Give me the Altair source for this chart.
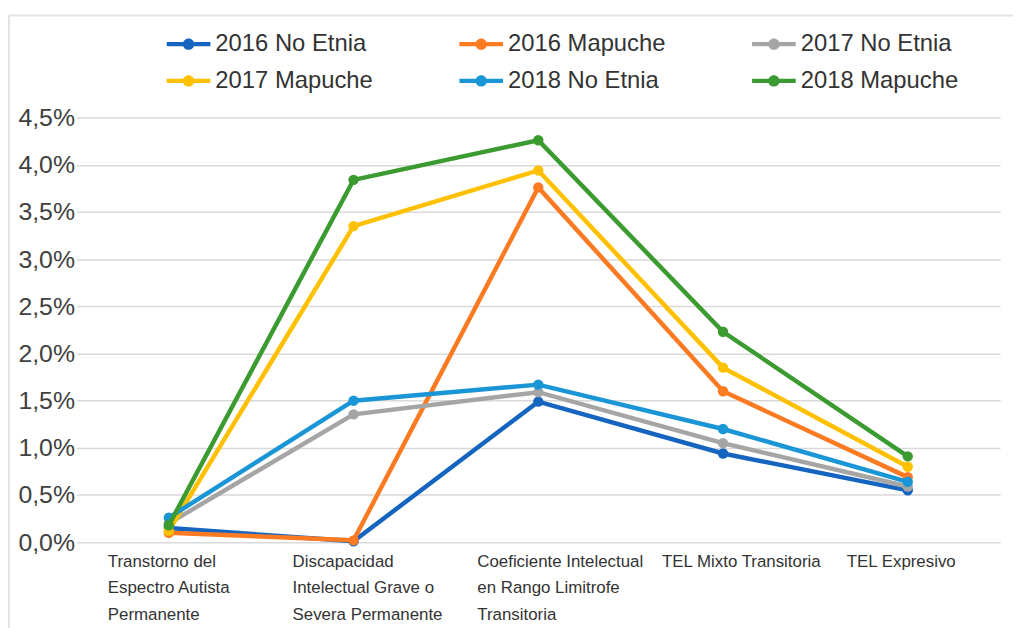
import altair as alt
import pandas as pd

categories = [
    "Transtorno del|Espectro Autista|Permanente",
    "Discapacidad|Intelectual Grave o|Severa Permanente",
    "Coeficiente Intelectual|en Rango Limitrofe|Transitoria",
    "TEL Mixto Transitoria",
    "TEL Expresivo",
]
series = ["2016 No Etnia", "2016 Mapuche", "2017 No Etnia",
          "2017 Mapuche", "2018 No Etnia", "2018 Mapuche"]
colors = ["#1565c0", "#fb7a22", "#a5a5a5", "#ffc000", "#1a96d6", "#3c9b30"]

v_2016_no_etnia = [0.15, 0.01, 1.49, 0.94, 0.55]
v_2016_mapuche = [0.10, 0.02, 3.76, 1.60, 0.69]
v_2017_no_etnia = [0.20, 1.355, 1.59, 1.05, 0.59]
v_2017_mapuche = [0.12, 3.35, 3.94, 1.85, 0.80]
v_2018_no_etnia = [0.26, 1.50, 1.67, 1.20, 0.64]
v_2018_mapuche = [0.18, 3.84, 4.26, 2.23, 0.91]

y_ticks = [0, 0.5, 1.0, 1.5, 2.0, 2.5, 3.0, 3.5, 4.0, 4.5]

all_values = [v_2016_no_etnia, v_2016_mapuche, v_2017_no_etnia,
              v_2017_mapuche, v_2018_no_etnia, v_2018_mapuche]
rows = []
for s, vals in zip(series, all_values):
    for c, v in zip(categories, vals):
        rows.append({"series": s, "cat": c, "value": v})
df = pd.DataFrame(rows)

FONT = "Liberation Sans, Arial, sans-serif"

legend_symbol = ("M-1,-0.1 L1,-0.1 L1,0.1 L-1,0.1 Z "
                 "M-0.26,0 A0.26,0.26 0 1,1 0.26,0 A0.26,0.26 0 1,1 -0.26,0 Z")

x_enc = alt.X(
    "cat:N", sort=categories,
    scale=alt.Scale(type="point", padding=0.5),
    axis=alt.Axis(
        title=None, labelExpr="split(datum.label, '|')", labelAngle=0,
        labelAlign="left", labelBaseline="top", labelOffset=-62,
        labelPadding=11, labelFont=FONT, labelFontSize=17,
        labelLineHeight=27, labelColor="#333333", ticks=False,
        domain=False, grid=False, labelLimit=300, labelOverlap=False,
        labelBound=False,
    ),
)
y_enc = alt.Y(
    "value:Q", scale=alt.Scale(domain=[0, 4.5], nice=False),
    axis=alt.Axis(
        title=None, values=y_ticks,
        labelExpr="replace(format(datum.value, '.1f'), '.', ',') + '%'",
        labelFont=FONT, labelFontSize=25, labelColor="#404040",
        labelPadding=2, ticks=False, domain=False, grid=True,
        gridColor="#d9d9d9", gridWidth=1.5,
    ),
)
color_enc = alt.Color(
    "series:N", sort=series,
    scale=alt.Scale(domain=series, range=colors),
    legend=alt.Legend(
        title=None, orient="none", legendX=91, legendY=-96, columns=3,
        direction="horizontal",
        symbolType=legend_symbol, symbolSize=1936, symbolStrokeWidth=0,
        labelFont=FONT, labelFontSize=24, labelColor="#333333",
        columnPadding=87, rowPadding=3, labelOffset=5, labelLimit=300,
    ),
)

layers = []
frame = pd.DataFrame({"a": [0]})
layers.append(alt.Chart(frame).mark_rule(color="#e3e3e3", strokeWidth=2).encode(
    x=alt.value(-68), x2=alt.value(950), y=alt.value(-103)))
layers.append(alt.Chart(frame).mark_rule(color="#e3e3e3", strokeWidth=2).encode(
    x=alt.value(-68), y=alt.value(-103), y2=alt.value(520)))

for s in series:
    b = alt.Chart(df).transform_filter(alt.datum.series == s).encode(
        x=x_enc, y=y_enc, color=color_enc)
    layers.append(b.mark_line(strokeWidth=4.5))
    layers.append(b.mark_point(filled=True, size=110, opacity=1))

chart = alt.layer(*layers).properties(
    width=931, height=428,
    padding={"left": 69, "top": 108, "right": 13, "bottom": 84},
    autosize=alt.AutoSizeParams(type="none"),
    background="white",
).configure_view(stroke=None)

chart.save("out.html", embed_options={"renderer": "svg", "actions": False})
